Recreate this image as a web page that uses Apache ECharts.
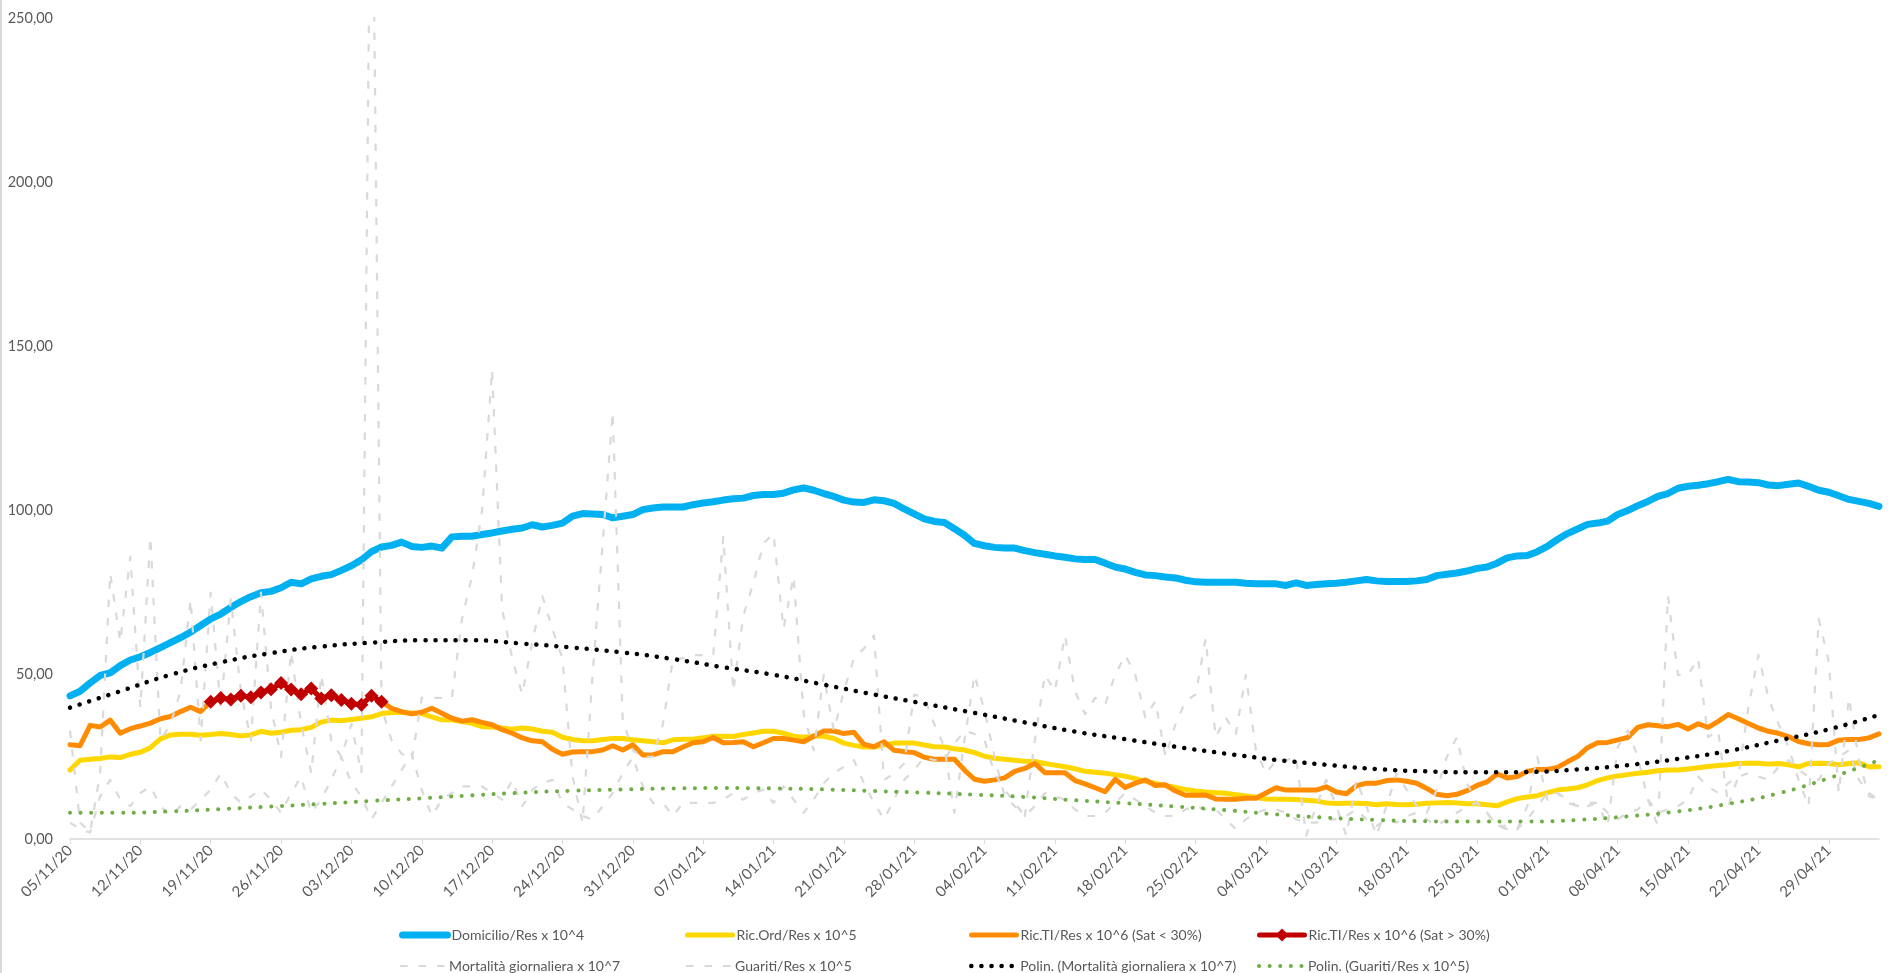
<!DOCTYPE html>
<html>
<head>
<meta charset="utf-8">
<title>Domicilio, ricoveri e mortalità</title>
<script src="https://cdn.jsdelivr.net/npm/echarts@6/dist/echarts.min.js"></script>
<style>
  html, body { margin: 0; padding: 0; background: #ffffff; }
  #chart { width: 1895px; height: 973px; }
</style>
</head>
<body>
<div id="chart"></div>
<script>
// Daily categories: 05/11/20 .. 04/05/21
const startDate = new Date(2020, 10, 5);
const dayCount = 181;
const dates = [];
for (let i = 0; i < dayCount; i++) {
  const d = new Date(startDate.getFullYear(), startDate.getMonth(), startDate.getDate() + i);
  const dd = String(d.getDate()).padStart(2, '0');
  const mm = String(d.getMonth() + 1).padStart(2, '0');
  const yy = String(d.getFullYear()).slice(2);
  dates.push(dd + '/' + mm + '/' + yy);
}

const yTicks = [0, 50, 100, 150, 200, 250];

// Domicilio/Res x 10^4
const domicilio = [
  43.6,45,47.5,49.8,50.6,52.8,54.5,55.5,56.8,58.3,
  59.8,61.3,63,65,67,68.5,70.5,72.3,73.8,75,
  75.4,76.5,78.2,77.7,79.2,80,80.5,81.8,83.2,85,
  87.5,88.9,89.4,90.4,89.1,88.8,89.2,88.6,92,92.2,
  92.2,92.7,93.2,93.8,94.3,94.7,95.7,95,95.5,96.2,
  98.3,99.1,99,98.8,97.8,98.3,98.8,100.3,100.8,101.1,
  101.1,101.1,101.8,102.3,102.7,103.2,103.6,103.8,104.6,104.9,
  104.9,105.3,106.3,106.9,106.2,105.2,104.3,103.2,102.6,102.5,
  103.3,103,102.2,100.5,99,97.5,96.7,96.4,94.5,92.5,
  90,89.3,88.8,88.6,88.6,87.8,87.2,86.7,86.2,85.8,
  85.3,85.1,85.1,84,82.8,82.2,81.2,80.4,80.2,79.8,
  79.5,78.8,78.3,78.2,78.2,78.2,78.2,77.9,77.7,77.7,
  77.7,77.2,78,77.2,77.5,77.7,77.9,78.2,78.6,79,
  78.6,78.4,78.4,78.4,78.6,79,80.2,80.6,81,81.6,
  82.4,82.8,84,85.6,86.2,86.3,87.5,89.1,91.2,93,
  94.4,95.8,96.2,96.8,98.8,100,101.5,102.8,104.3,105.2,
  106.8,107.4,107.7,108.2,108.8,109.5,108.8,108.7,108.5,107.8,
  107.6,108,108.4,107.4,106.2,105.6,104.5,103.4,102.8,102.2,
  101.3
];

// Ric.Ord/Res x 10^5
const ricOrd = [
  21,24,24.3,24.5,25,24.8,25.8,26.4,27.8,30.5,
  31.7,31.9,31.9,31.6,31.8,32.1,31.8,31.4,31.7,32.8,
  32.2,32.5,33.1,33.3,34,35.6,36.2,36,36.4,36.8,
  37.2,38.2,38.5,38.5,38.4,38.2,37.2,36.3,36.2,35.8,
  35.2,34.2,34.1,33.8,33.4,33.8,33.5,32.8,32.5,31,
  30.3,29.9,29.9,30.3,30.6,30.6,30.2,29.9,29.6,29.3,
  30.2,30.4,30.4,30.8,31.3,31.3,31.2,31.8,32.3,32.8,
  32.8,32.2,31.3,31,31.4,31.3,30.6,29.2,28.5,28,
  28,28.6,29.2,29.2,29.2,28.6,28.1,28,27.5,27.1,
  26.3,25.2,24.6,24.3,24,23.7,23.6,23,22.5,22,
  21.4,20.6,20.3,20,19.6,19.1,18.4,17.6,16.9,16.3,
  15.7,15.1,14.6,14.3,14.1,13.9,13.5,13.1,12.7,12.2,
  12.1,12.1,12,11.8,11.6,11,10.8,10.9,10.9,10.8,
  10.4,10.7,10.5,10.4,10.6,10.9,11,11.1,11,10.7,
  10.7,10.4,10.1,11.3,12.3,12.8,13.2,14.1,14.9,15.2,
  15.6,16.5,17.8,18.6,19.2,19.6,20,20.3,20.8,21,
  21,21.3,21.7,22.1,22.4,22.6,23,23.1,23.1,22.8,
  23,22.6,22,23,23.1,23,22.6,23,23.2,22,
  22
];

// Ric.TI/Res x 10^6 (Sat < 30%)
const ricTiLow = [
  28.7,28.4,34.6,34.1,36.2,32.2,33.6,34.4,35.3,36.6,
  37.3,38.8,40.1,38.8,41.8,42.9,42.5,43.6,43.2,44.6,
  45.6,47.5,45.5,44.1,45.8,42.8,43.8,42.3,41.2,40.9,
  43.6,41.8,39.8,38.8,38.1,38.6,39.8,38.3,36.8,35.9,
  36.3,35.5,34.8,33.3,32.2,30.8,29.9,29.6,27.3,25.8,
  26.5,26.6,26.6,27.1,28.4,27.1,28.7,25.6,25.6,26.6,
  26.6,28,29.3,29.6,30.9,29.3,29.4,29.6,28.1,29.3,
  30.6,30.6,30.1,29.6,31.3,32.9,32.9,32.1,32.5,28.8,
  28.1,29.6,27,26.6,26.3,24.9,24.3,24.3,24.3,21,
  18.2,17.6,18,18.6,20.6,21.5,23,20.2,20.2,20.2,
  17.8,16.8,15.6,14.4,18.2,15.7,17,18,16.3,16.5,
  14.6,13.3,13.3,13.4,12.2,12.1,12.1,12.4,12.4,14,
  15.6,14.9,14.9,14.9,14.9,15.9,14.3,13.8,16.2,17,
  17,17.8,18,17.6,17,15.4,13.6,13.2,13.6,14.7,
  16.3,17.4,19.8,18.6,19,20.6,21.2,21.2,21.8,23.5,
  25.1,27.8,29.3,29.4,30.2,30.9,34,34.8,34.5,34.2,
  34.9,33.5,35.1,34,35.8,37.9,36.6,35.2,33.8,32.8,
  32.2,31.2,29.7,29,28.7,28.8,30.1,30.3,30.3,30.8,
  32
];

// Ric.TI/Res x 10^6 (Sat > 30%): days 14..31
const ricTiHighStart = 14;
const ricTiHighValues = [
  41.8,42.9,42.5,43.6,43.2,44.6,45.6,47.5,45.5,44.1,
  45.8,42.8,43.8,42.3,41.2,40.9,43.6,41.8
];

// Mortalità giornaliera x 10^7
const mortalita = [
  33,5,2,20,81,60,86,40,92,30,
  35,45,73,30,75,40,73,45,30,75,
  40,25,57,35,20,50,30,25,35,20,
  330,40,30,26,24,43,43,43,43,67,
  80,100,143,70,55,44,60,74,64,55,
  19,5,50,90,130,36,27,25,25,35,
  55,55,56,56,56,92,45,68,78,90,
  93,64,80,38,27,50,33,45,55,58,
  62,18,20,23,44,43,35,28,8,30,
  50,39,25,13,10,7,30,50,45,62,
  45,38,43,41,50,56,50,37,42,25,
  35,42,44,61,31,37,32,50,27,20,
  24,24,25,1,10,18,10,1,18,10,
  1,10,20,15,10,8,15,25,31,17,
  11,8,4,3,3,10,25,12,14,12,
  10,11,11,4,28,33,25,12,4,74,
  50,50,55,31,33,10,19,40,56,43,
  35,28,18,10,67,54,14,43,24,13,
  12
];

// Guariti/Res x 10^5
const guariti = [
  5,3,2,13,18,12,10,14,16,10,
  7,10,9,12,15,20,14,11,13,15,
  12,8,14,19,8,12,18,25,17,13,
  6,11,16,21,26,15,7,12,14,16,
  16,16,14,12,18,10,15,17,18,11,
  9,7,6,10,14,20,25,16,11,11,
  7,11,11,11,11,12,14,12,14,15,
  11,16,12,8,12,17,20,22,24,17,
  11,6,12,18,21,25,24,24,29,33,
  32,30,20,15,11,7,10,14,13,12,
  9,7,7,8,11,14,12,10,8,7,
  7,9,10,9,9,6,3,6,8,9,
  9,8,6,5,5,6,6,7,9,6,
  4,6,5,7,8,6,4,6,8,10,
  11,8,4,4,3,6,10,14,14,11,
  10,10,11,8,6,8,9,12,8,9,
  10,12,19,16,14,17,19,20,19,18,
  22,24,21,19,18,23,25,27,18,14,
  12
];

// Polynomial trend, Mortalità: [day, value]
const trendMortDays = [0,5,10,15,20,25,30,35,40,45,50,55,60,65,70,75,80,85,90,95,100,105,110,115,120,125,130,135,140,145,150,155,160,165,170,175,180];
const trendMortValues = [40,45,50,53.8,56.6,58.6,59.8,60.5,60.5,59.5,58.3,56.8,54.8,52.3,50,47,44,41.2,38.4,35.5,32.7,30.4,28.1,26,24.1,22.6,21.3,20.6,20.3,20.4,21.2,22.5,24.4,26.8,30,33.4,37.8];

// Polynomial trend, Guariti: [day, value]
const trendGuarDays = trendMortDays;
const trendGuarValues = [8,8,8.4,9.1,9.9,10.7,11.6,12.4,13.3,14.1,14.7,15.1,15.4,15.5,15.4,15.1,14.6,14.1,13.5,12.8,11.8,10.9,9.9,8.8,7.5,6.5,5.8,5.4,5.3,5.3,5.8,6.9,8.4,10.7,13.9,18.5,24];

const seriesNames = [
  'Domicilio/Res x 10^4',
  'Ric.Ord/Res x 10^5',
  'Ric.TI/Res x 10^6 (Sat < 30%)',
  'Ric.TI/Res x 10^6 (Sat > 30%)',
  'Mortalità giornaliera x 10^7',
  'Guariti/Res x 10^5',
  'Polin. (Mortalità giornaliera x 10^7)',
  'Polin. (Guariti/Res x 10^5)'
];

const ricTiHigh = dates.map((_, i) => {
  const k = i - ricTiHighStart;
  return (k >= 0 && k < ricTiHighValues.length) ? ricTiHighValues[k] : null;
});
const pairs = (xs, ys) => xs.map((x, k) => [x, ys[k]]);

const textColor = '#595959';
const fontFamily = 'Lato, "Open Sans", sans-serif';
const axisGray = '#D9D9D9';
const gray = '#D9D9D9';

// Per-series line styles, shared by the plot and the legend keys
const styles = [
  { color: '#00B0F0', width: 7, type: 'solid', cap: 'round' },
  { color: '#FFD700', width: 5, type: 'solid', cap: 'round' },
  { color: '#FF8C00', width: 5, type: 'solid', cap: 'round' },
  { color: '#C00000', width: 5, type: 'solid', cap: 'round' },
  { color: gray, width: 2.2, type: [7.5, 11], cap: 'butt' },
  { color: gray, width: 2.2, type: [7.5, 11], cap: 'butt' },
  { color: '#000000', width: 4.5, type: [0.1, 10], cap: 'round' },
  { color: '#70AD47', width: 4, type: [0.1, 10.5], cap: 'round' }
];

// Legend: two rows of four fixed columns
const legendCols = [394, 680, 964, 1252];
const legendRows = [923, 954];
const legends = seriesNames.map((name, k) => ({
  data: [name],
  left: legendCols[k % 4],
  top: legendRows[Math.floor(k / 4)],
  itemWidth: 45,
  itemHeight: 16,
  itemGap: 5,
  selectedMode: false,
  itemStyle: { opacity: k === 3 ? 1 : 0 },
  lineStyle: {
    color: styles[k].color, width: styles[k].width,
    type: styles[k].type, cap: styles[k].cap
  },
  textStyle: { color: textColor, fontFamily: fontFamily, fontSize: 14, padding: [0, 0, 0, -1] }
}));

const lineSeries = (k, data, extra) => Object.assign({
  name: seriesNames[k], type: 'line', data: data, symbol: 'none',
  lineStyle: { color: styles[k].color, width: styles[k].width, type: styles[k].type, cap: styles[k].cap, join: 'round' },
  itemStyle: { color: styles[k].color }
}, extra || {});

const option = {
  animation: false,
  backgroundColor: '#ffffff',
  textStyle: { fontFamily: fontFamily },
  grid: { left: 70, right: 16, top: 18, bottom: 134, containLabel: false },
  legend: legends,
  graphic: [{
    type: 'line', shape: { x1: 1, y1: 0, x2: 1, y2: 973 },
    style: { stroke: axisGray, lineWidth: 2 }, silent: true
  }],
  xAxis: {
    type: 'category',
    data: dates,
    boundaryGap: false,
    axisLine: { lineStyle: { color: axisGray, width: 1.5 } },
    axisTick: { show: true, interval: 6, length: 5, lineStyle: { color: axisGray } },
    axisLabel: { interval: 6, rotate: 45, color: textColor, fontSize: 15, fontFamily: fontFamily, margin: 9 },
    splitLine: { show: false }
  },
  yAxis: {
    type: 'value',
    min: yTicks[0],
    max: yTicks[yTicks.length - 1],
    interval: yTicks[1] - yTicks[0],
    axisLine: { show: false },
    axisTick: { show: false },
    splitLine: { show: false },
    axisLabel: {
      color: textColor, fontSize: 14.5, fontFamily: fontFamily, margin: 17,
      formatter: v => v.toFixed(2).replace('.', ',')
    }
  },
  series: [
    lineSeries(0, domicilio),
    lineSeries(1, ricOrd),
    lineSeries(2, ricTiLow),
    lineSeries(3, ricTiHigh, { symbol: 'diamond', symbolSize: 14, showAllSymbol: true }),
    lineSeries(4, mortalita),
    lineSeries(5, guariti),
    lineSeries(6, pairs(trendMortDays, trendMortValues), { smooth: true }),
    lineSeries(7, pairs(trendGuarDays, trendGuarValues), { smooth: true })
  ]
};

const chart = echarts.init(document.getElementById('chart'), null, { renderer: 'canvas' });
chart.setOption(option);
</script>
</body>
</html>
